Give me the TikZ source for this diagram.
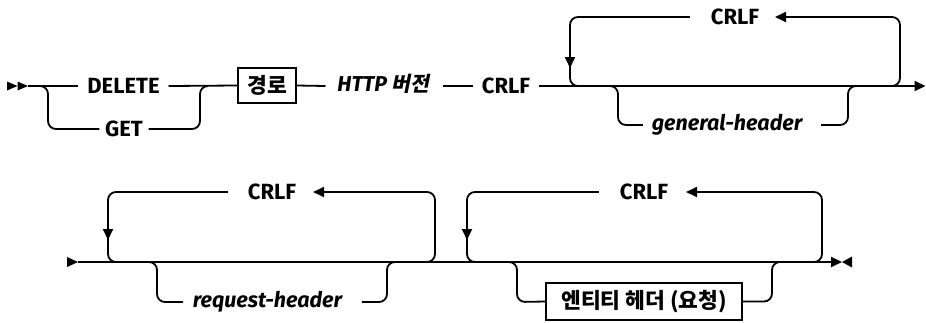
\documentclass[tikz,border=0pt]{standalone}
\usepackage{fontspec}
\setmainfont{Fira Sans}
\newfontfamily\kr{Noto Sans CJK KR}
\newfontfamily\krit{Noto Sans CJK KR}[FakeSlant=0.2]
\usetikzlibrary{arrows.meta}
\begin{document}
\begin{tikzpicture}[x=1pt,y=-1pt,line width=1.8pt,
  lbl/.style={inner ysep=0pt,inner xsep=8pt,text height=15pt,text depth=0pt,font=\fontsize{22}{24}\selectfont\bfseries},
  looplbl/.style={lbl,inner xsep=0pt},
  ilbl/.style={inner ysep=0pt,inner xsep=0pt,text height=11pt,text depth=0pt,font=\fontsize{21.5}{24}\selectfont\bfseries\itshape},
  kbox/.style={draw,line width=1.5pt,inner sep=0pt,minimum height=35pt,font=\kr\bfseries\fontsize{21.5}{24}\selectfont},
  tip/.style={-{Triangle[length=11pt,width=10pt]}},
  rr/.style={rounded corners=8pt}]
\useasboundingbox (0,0) rectangle (926,322);
% ---------- row 1 ----------
\node[lbl] (delete) at (123.5,86) {DELETE};
\node[lbl,inner xsep=5pt] (get) at (124,129) {GET};
\node[kbox,minimum width=58pt] (path) at (267,85.5) {경로};
\node[ilbl] (http) at (383.5,86) {HTTP {\krit\bfseries\fontsize{20.5}{24}\selectfont 버전}};
\node[lbl] (crlf1) at (506,86) {CRLF};
\node[looplbl] (crlfA) at (735,17) {CRLF};
\node[ilbl] (gen) at (727,125) {general-header};
\coordinate (s1) at (28,86);
\coordinate (e1) at (925.5,86);
\fill (7,81.5) -- (17.5,86) -- (7,90.5) -- cycle;
\fill (17.5,81.5) -- (28,86) -- (17.5,90.5) -- cycle;
\draw (s1) -- (delete.west);
\draw[rr] (40,86) -| (48,129) -- (get.west);
\draw[rr] (get.east) -| (200,86) -- (208,86);
\draw (delete.east) -- (path.west);
\draw (path.east) -- ([xshift=-11pt]http.west);
\draw ([xshift=12pt]http.east) -- (crlf1.west);
\draw[tip] (crlf1.east) -- (e1);
% loop
\draw[rr] ([xshift=-20pt]crlfA.west) -| (570,86) -- (590,86);
\draw[tip] (570,52) -- (570,68);
\draw[tip,rr] (880,86) -- (900,86) |- ([xshift=15pt]crlfA.east);
% optional
\draw[rr] (610,86) -| (618,125) -- ([xshift=-8pt]gen.west);
\draw[rr] ([xshift=18pt]gen.east) -| (848,86) -- (856,86);
% ---------- row 2 ----------
\node[looplbl] (crlfB) at (272,192) {CRLF};
\node[ilbl] (req) at (267.5,302) {request-header};
\node[looplbl] (crlfC) at (644,192) {CRLF};
\node[kbox,minimum width=196pt,minimum height=37pt] (ent) at (644,301.5) {엔티티 헤더 (요청)};
\coordinate (s2) at (78,262);
\coordinate (e2) at (842,262);
\fill (67,257) -- (78,262) -- (67,267) -- cycle;
\draw[tip] (s2) -- (e2);
\fill (852,256.5) -- (842,262) -- (852,267.5) -- cycle;
% loop 1
\draw[rr] ([xshift=-19pt]crlfB.west) -| (108,262) -- (128,262);
\draw[tip] (108,224) -- (108,240);
\draw[tip,rr] (415,262) -- (435,262) |- ([xshift=16pt]crlfB.east);
% optional 1
\draw[rr] (149,262) -| (157,302) -- ([xshift=-9pt]req.west);
\draw[rr] ([xshift=19pt]req.east) -| (387,262) -- (395,262);
% loop 2
\draw[rr] ([xshift=-20pt]crlfC.west) -| (467,262) -- (487,262);
\draw[tip] (467,224) -- (467,240);
\draw[tip,rr] (802,262) -- (822,262) |- ([xshift=17pt]crlfC.east);
% optional 2
\draw[rr] (509,262) -| (517,302) -- (ent.west);
\draw[rr] (ent.east) -| (772,262) -- (780,262);
\end{tikzpicture}
\end{document}
